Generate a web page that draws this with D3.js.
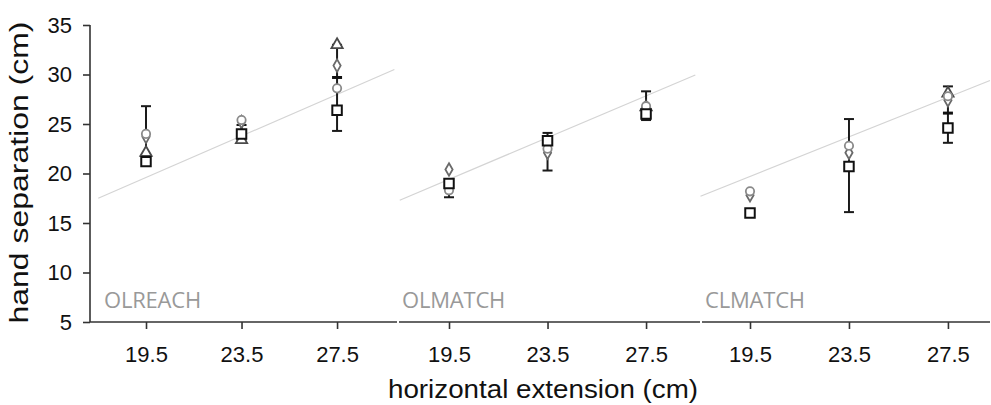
<!DOCTYPE html>
<html>
<head>
<meta charset="utf-8">
<script src="https://cdn.jsdelivr.net/npm/d3@7"></script>
<style>
  body { margin: 0; background: #fff; }
  svg { display: block; }
</style>
</head>
<body>
<svg></svg>
<script>
// extension levels and the three conditions
let extensions = [19.5, 23.5, 27.5];
let conditions = ["OLREACH", "OLMATCH", "CLMATCH"];
let yTicks = [5, 10, 15, 20, 25, 30, 35];

// one row per condition, one value per extension
let squareVals = [[21.2, 24.0, 26.4], [19.0, 23.3, 26.0], [16.0, 20.7, 24.6]];
let circleVals = [[24.0, 25.4, 28.6], [18.3, 22.5, 26.8], [18.2, 22.8, 27.8]];
let diamondVals = [[23.7, 25.2, 30.9], [20.4, 22.1, 26.5], [17.8, 22.1, 27.4]];
let triangleVals = [[22.1, 23.4, 33.0], [null, null, 26.7], [null, null, 28.1]];
let dashVals = [[null, null, 29.7], [null, null, null], [null, null, 26.1]];
let errLow = [[21.2, 23.4, 24.3], [17.6, 20.3, 25.4], [16.0, 16.1, 23.1]];
let errHigh = [[26.8, 24.9, 33.0], [19.2, 24.1, 28.3], [16.0, 25.5, 28.8]];

// grey reference line, start and end points per condition
let lineX0 = [17.5, 17.5, 17.5];
let lineY0 = [17.5, 17.3, 17.7];
let lineX1 = [29.9, 29.5, 29.2];
let lineY1 = [30.5, 29.95, 29.4];

let width = 991;
let height = 405;
let plotTop = 25;
let plotBottom = 322;
let plotLeft = 90;

// pixel extent and x domain of each panel
let panels = [
  { x0: 90, x1: 397, dom: [17.155, 30.01] },
  { x0: 399, x1: 700, dom: [17.47, 29.69] },
  { x0: 702, x1: 990, dom: [17.56, 29.2] }
];

let svg = d3.select("svg").attr("width", width).attr("height", height);

let yScale = d3.scaleLinear().domain([5, 35]).range([plotBottom, plotTop]);

let font = "'Liberation Sans', Arial, sans-serif";
let axisColor = "#333";
let tickFont = 22;

// y axis
let yAxis = svg.append("g")
  .attr("transform", "translate(" + plotLeft + ",0)")
  .call(d3.axisLeft(yScale).tickValues(yTicks).tickSize(7).tickPadding(11).tickFormat(d3.format("d")));
yAxis.selectAll("path, line").attr("stroke", axisColor).attr("stroke-width", 1.6);
yAxis.select(".domain").attr("d", "M0," + plotTop + "V" + plotBottom);
yAxis.selectAll("text").attr("font-family", font).attr("font-size", tickFont).attr("fill", "#111");

svg.append("text")
  .attr("transform", "translate(28," + ((plotTop + plotBottom) / 2 - 1) + ") rotate(-90)")
  .attr("text-anchor", "middle")
  .attr("font-family", font)
  .attr("font-size", 25)
  .attr("textLength", 302)
  .attr("lengthAdjust", "spacingAndGlyphs")
  .attr("fill", "#111")
  .text("hand separation (cm)");

let symSquare = d3.symbol().type(d3.symbolSquare).size(90);
let symCircle = d3.symbol().type(d3.symbolCircle).size(55);
let symDiamond = d3.symbol().type(d3.symbolDiamond).size(45);
let symTriangle = d3.symbol().type(d3.symbolTriangle).size(55);

panels.forEach((p, pi) => {
  let xScale = d3.scaleLinear().domain(p.dom).range([p.x0, p.x1]);

  let xAxis = svg.append("g")
    .attr("transform", "translate(0," + plotBottom + ")")
    .call(d3.axisBottom(xScale).tickValues(extensions).tickSize(7).tickPadding(17).tickFormat(d3.format(".1f")));
  xAxis.selectAll("path, line").attr("stroke", axisColor).attr("stroke-width", 1.6);
  xAxis.select(".domain").attr("d", "M" + p.x0 + ",0H" + p.x1);
  xAxis.selectAll("text").attr("font-family", font).attr("font-size", tickFont).attr("fill", "#111");

  // panel label
  svg.append("text")
    .attr("x", p.x0 + (pi == 0 ? 14 : 3))
    .attr("y", 308)
    .attr("font-family", "'Open Sans', sans-serif")
    .attr("font-size", 22)
    .attr("letter-spacing", -0.2)
    .attr("fill", "#999")
    .text(conditions[pi]);

  // reference line
  svg.append("line")
    .attr("x1", xScale(lineX0[pi]))
    .attr("y1", yScale(lineY0[pi]))
    .attr("x2", xScale(lineX1[pi]))
    .attr("y2", yScale(lineY1[pi]))
    .attr("stroke", "#d4d4d4")
    .attr("stroke-width", 1.2);

  let g = svg.append("g");

  // error bars
  extensions.forEach((e, i) => {
    let x = xScale(e);
    let lo = yScale(errLow[pi][i]);
    let hi = yScale(errHigh[pi][i]);
    g.append("line").attr("x1", x).attr("x2", x).attr("y1", lo).attr("y2", hi)
      .attr("stroke", "#1a1a1a").attr("stroke-width", 2);
    [lo, hi].forEach((y) => {
      g.append("line").attr("x1", x - 5).attr("x2", x + 5).attr("y1", y).attr("y2", y)
        .attr("stroke", "#1a1a1a").attr("stroke-width", 2);
    });
  });

  // dash marks
  extensions.forEach((e, i) => {
    if (dashVals[pi][i] == null) return;
    let x = xScale(e);
    let y = yScale(dashVals[pi][i]);
    g.append("line").attr("x1", x - 5).attr("x2", x + 5).attr("y1", y).attr("y2", y)
      .attr("stroke", "#111").attr("stroke-width", 3);
  });

  function drawSeries(vals, sym, color, sw) {
    extensions.forEach((e, i) => {
      if (vals[pi][i] == null) return;
      g.append("path")
        .attr("d", sym())
        .attr("transform", "translate(" + xScale(e) + "," + yScale(vals[pi][i]) + ")")
        .attr("fill", "#fff")
        .attr("stroke", color)
        .attr("stroke-width", sw);
    });
  }

  drawSeries(triangleVals, symTriangle, "#4a4a4a", 1.8);
  drawSeries(diamondVals, symDiamond, "#6a6a6a", 1.8);
  drawSeries(circleVals, symCircle, "#8a8a8a", 1.8);
  drawSeries(squareVals, symSquare, "#111", 2);
});

svg.append("text")
  .attr("x", 543)
  .attr("y", 398)
  .attr("text-anchor", "middle")
  .attr("font-family", font)
  .attr("font-size", 25)
  .attr("textLength", 310)
  .attr("lengthAdjust", "spacingAndGlyphs")
  .attr("fill", "#111")
  .text("horizontal extension (cm)");
</script>
</body>
</html>
